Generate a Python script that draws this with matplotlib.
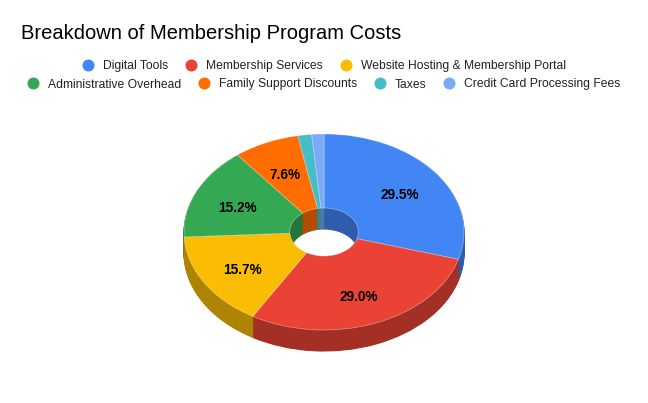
import matplotlib
matplotlib.use('Agg')
import matplotlib.pyplot as plt
from matplotlib.colors import to_rgb

plt.rcParams['font.family'] = ['Liberation Sans', 'DejaVu Sans']

title = "Breakdown of Membership Program Costs"
categories = ["Digital Tools", "Membership Services", "Website Hosting & Membership Portal",
              "Administrative Overhead", "Family Support Discounts", "Taxes",
              "Credit Card Processing Fees"]
values = [29.5, 29.0, 15.7, 15.2, 7.6, 1.6, 1.4]
colors = ["#4285f4", "#ea4335", "#fbbc04", "#34a853", "#ff6d01", "#46bdc6", "#7baaf7"]
legend_rows = [3, 4]

W, H = 648, 403
fig = plt.figure(figsize=(W / 100, H / 100), dpi=100)
fig.patch.set_facecolor('white')

# geometry in pixels
cx, cy = 324, 232
rx, ry = 140, 98
depth = 21
hole = 0.245

ax = fig.add_axes([0, 0, 1, 1])


def dark(c, f=0.7):
    return tuple(v * f for v in to_rgb(c))


dark_colors = [dark(c) for c in colors]
for i in range(depth, 0, -1):
    wedges, _ = ax.pie(values, colors=dark_colors, startangle=90, counterclock=False,
                       center=(0, -i / ry), radius=1,
                       wedgeprops=dict(width=1 - hole, linewidth=0.8))
    for w in wedges:
        w.set_edgecolor(w.get_facecolor())


def fmt(p):
    return f"{p:.1f}%" if p >= 5 else ""


wedges, texts, autotexts = ax.pie(values, colors=colors, startangle=90, counterclock=False,
                                  center=(0, 0), radius=1, autopct=fmt, pctdistance=0.68,
                                  textprops=dict(fontsize=9.8, fontweight='bold', color='black'),
                                  wedgeprops=dict(width=1 - hole, linewidth=0.5,
                                                  edgecolor=(1, 1, 1, 0.45)))
for t in autotexts:
    x, y = t.get_position()
    t.set_position((x, y - 3.5 / ry))

ax.set_aspect('auto')
ax.set_xlim(-cx / rx, (W - cx) / rx)
ax.set_ylim((cy - H) / ry, cy / ry)
ax.axis('off')

# overlay in pixel coordinates for title and legend
ov = fig.add_axes([0, 0, 1, 1])
ov.set_xlim(0, W)
ov.set_ylim(H, 0)
ov.axis('off')
ov.patch.set_alpha(0)

ov.text(21, 39, title, fontsize=14.5, color='#000000', va='baseline', ha='left')

renderer = fig.canvas.get_renderer()
row_y = [(65, 69.5), (82.7, 87.5)]
idx = 0
for r, n in enumerate(legend_rows):
    items = list(range(idx, idx + n))
    idx += n
    mark_y, base_y = row_y[r]
    txts = []
    for k in items:
        t = ov.text(0, base_y, categories[k], fontsize=8.7, color='#222222',
                    va='baseline', ha='left')
        txts.append(t)
    widths = [t.get_window_extent(renderer).width for t in txts]
    total = 6 + sum(15 + w for w in widths) + 22.7 * (n - 1)
    x = W / 2 - total / 2 + 6
    for k, t, w in zip(items, txts, widths):
        ov.scatter([x], [mark_y], s=(12 * 0.72) ** 2, color=colors[k], linewidths=0)
        t.set_x(x + 15)
        x += 15 + w + 22.7

fig.savefig("out.png", dpi=100, facecolor='white')
